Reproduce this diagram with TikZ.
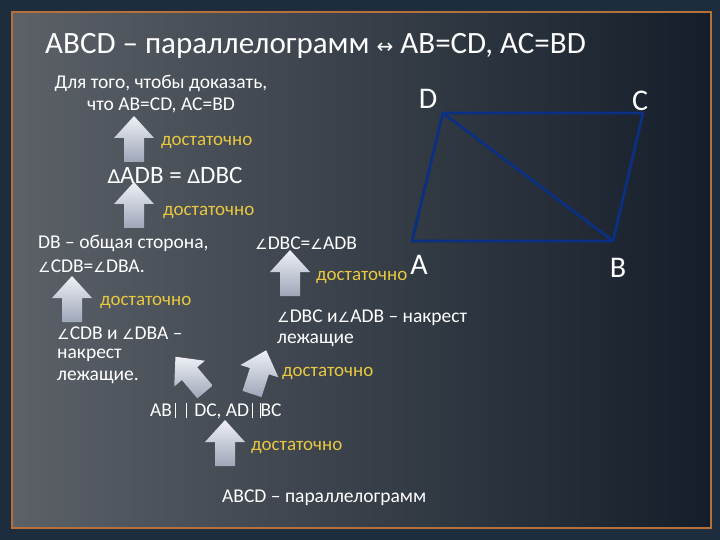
\documentclass[tikz,border=0pt]{standalone}
\usepackage{fontspec}
\setmainfont{Carlito}
\newfontfamily\symf{DejaVu Sans}
\usetikzlibrary{shadings}
\definecolor{ylw}{HTML}{E8C840}
\definecolor{frm}{HTML}{B8703A}
\definecolor{pblue}{HTML}{0B2F82}
\definecolor{outer}{HTML}{1E2D3E}
\definecolor{bgl}{HTML}{5C6168}
\definecolor{bgr}{HTML}{141E2A}
\definecolor{atop}{HTML}{EEF0F6}
\definecolor{abot}{HTML}{9EA6B8}
\newcommand{\ang}{{\symf\fontsize{14}{16}\selectfont ∠}}
\newcommand{\tri}{{\symf\fontsize{19}{21}\selectfont ∆}}
\tikzset{
  txt/.style={text=white, inner sep=0pt, anchor=west, font=\fontsize{19.5}{22}\selectfont},
  dost/.style={text=ylw, inner sep=0pt, anchor=west, font=\fontsize{19}{21}\selectfont},
  vlab/.style={text=white, inner sep=0pt, font=\fontsize{30}{32}\selectfont},
  barr/.style={top color=atop, bottom color=abot, draw=none},
}
\newcommand{\blockarrow}[3]{% x, y (base center), rotation
  \begin{scope}[shift={(#1,#2)}, rotate=#3]
    \shade[barr] (-10,0) -- (-10,-24) -- (-20,-24) -- (0,-46) -- (20,-24) -- (10,-24) -- (10,0) -- cycle;
  \end{scope}}
\begin{document}
\begin{tikzpicture}[x=1pt,y=-1pt]
\useasboundingbox (0,0) rectangle (720,540);
\fill[outer] (0,0) rectangle (720,540);
\shade[left color=bgl, right color=bgr] (12,12) rectangle (711,528);
\draw[frm, line width=2pt] (12,12) rectangle (711,528);
% arrows
\blockarrow{134}{162}{0}
\blockarrow{134}{228}{0}
\blockarrow{72}{322}{0}
\blockarrow{290}{296}{0}
\blockarrow{205}{392}{40}
\blockarrow{252}{394}{-18}
\blockarrow{225}{466}{0}
% parallelogram
\coordinate (A) at (412,241);
\coordinate (B) at (613,241);
\coordinate (C) at (643,113);
\coordinate (D) at (443,113);
\draw[pblue, line width=2.8pt, line join=round] (A) -- (B) -- (C) -- (D) -- cycle;
\draw[pblue, line width=2.8pt] (D) -- (B);
\node[vlab] (la) at (419,265) {A};
\node[vlab] (lb) at (618,268) {B};
\node[vlab] (lc) at (640,101) {C};
\node[vlab] (ld) at (428,99) {D};
% texts
\node[txt, anchor=west, font=\fontsize{31}{33}\selectfont] (title) at (45,46) {ABCD – параллелограмм {\symf\fontsize{20}{22}\selectfont ↔} AB=CD, AC=BD};
\node[txt, anchor=center] (t1) at (161,83) {Для того, чтобы доказать,};
\node[txt, anchor=center] (t2) at (161,105) {что AB=CD, AC=BD};
\node[dost] (d1) at (161,142) {достаточно};
\node[txt, anchor=center, font=\fontsize{25}{27}\selectfont] (t3) at (175,175) {\tri ADB = \tri DBC};
\node[dost] (d2) at (163,212) {достаточно};
\node[txt] (t4) at (38,243) {DB – общая сторона,};
\node[txt] (t5) at (38,266) {\ang CDB=\ang DBA.};
\node[txt] (t6) at (255,243) {\ang DBC=\ang ADB};
\node[dost] (d3) at (316,277) {достаточно};
\node[dost] (d4) at (100,302) {достаточно};
\node[txt] (t7) at (57,333) {\ang CDB и \ang DBA –};
\node[txt] (t8) at (57,355) {накрест};
\node[txt] (t9) at (57,377) {лежащие.};
\node[txt] (t10) at (277,318) {\ang DBC и\ang ADB – накрест};
\node[txt] (t11) at (277,340) {лежащие};
\node[dost] (d5) at (282,373) {достаточно};
\node[txt] (t12) at (150,411) {AB\,\rule[-2pt]{0.8pt}{15pt}\,\,\,\rule[-2pt]{0.8pt}{15pt}\, DC, AD\,\rule[-2pt]{0.8pt}{15pt}\,\,\rule[-2pt]{0.8pt}{15pt}BC};
\node[dost] (d6) at (251,447) {достаточно};
\node[txt] (t13) at (222,498) {ABCD – параллелограмм};
\end{tikzpicture}
\end{document}
